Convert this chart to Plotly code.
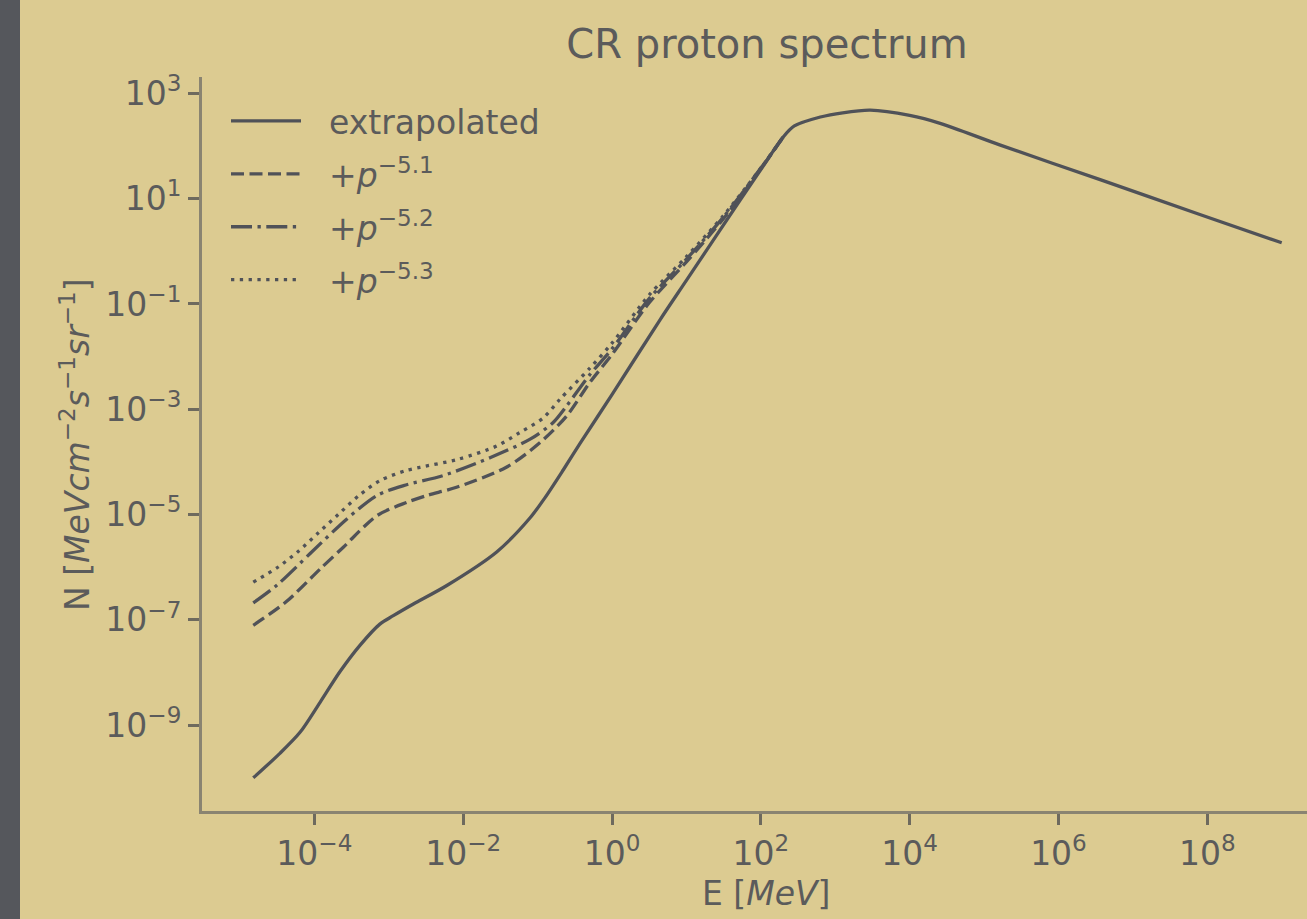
import plotly.graph_objects as go

# ---------------- data ----------------
E_solid = [1.51e-5, 3.47e-5, 6.46e-5, 1.2e-4, 2.19e-4, 4.07e-4, 7.59e-4, 1.15e-3, 2.14e-3, 6.03e-3,
           2.82e-2, 7.94e-2, 0.126, 0.222, 0.372, 1.0, 4.42, 10.0, 52.5, 100.0, 200.0, 282.0,
           631.0, 1260.0, 2950.0, 1.0e4, 2.57e4, 1.62e5, 3.63e6, 7.94e7, 1.0e9]
N_solid = [1.0e-10, 2.95e-10, 7.4e-10, 2.75e-9, 1.02e-8, 3.24e-8, 8.3e-8, 1.2e-7, 2.0e-7, 4.5e-7,
           1.95e-6, 8.7e-6, 2.1e-5, 7.1e-5, 2.24e-4, 1.9e-3, 5.0e-2, 0.28, 9.3, 35.5, 148.0, 240.0,
           355.0, 427.0, 479.0, 380.0, 269.0, 105.0, 22.9, 5.0, 1.45]

E_p51 = [1.51e-5, 4.17e-5, 1.2e-4, 2.45e-4, 6.92e-4, 1.74e-3, 3.24e-3, 8.13e-3, 3.8e-2, 0.107,
         0.245, 0.501, 1.0, 3.16, 10.0, 31.6, 100.0, 200.0]
N_p51 = [7.9e-8, 2.2e-7, 9.3e-7, 2.4e-6, 9.5e-6, 1.7e-5, 2.3e-5, 3.3e-5, 7.9e-5, 2.3e-4,
         7.4e-4, 3.2e-3, 1.1e-2, 0.105, 0.63, 4.2, 37.0, 148.0]

E_p52 = [1.51e-5, 3.16e-5, 8.71e-5, 2.69e-4, 6.92e-4, 1.58e-3, 5.37e-3, 2.29e-2, 7.94e-2, 0.162,
         0.245, 0.501, 1.0, 3.16, 10.0, 31.6, 100.0, 200.0]
N_p52 = [2.1e-7, 4.6e-7, 1.8e-6, 8.1e-6, 2.3e-5, 3.55e-5, 5.5e-5, 1.2e-4, 2.7e-4, 5.6e-4,
         1.15e-3, 4.5e-3, 1.4e-2, 0.126, 0.71, 4.5, 38.0, 148.0]

E_p53 = [1.51e-5, 3.31e-5, 6.17e-5, 1.15e-4, 2.09e-4, 3.98e-4, 7.59e-4, 1.66e-3, 2.63e-3, 8.51e-3,
         2.82e-2, 5.75e-2, 0.12, 0.2, 0.501, 1.0, 3.16, 10.0, 31.6, 100.0, 200.0]
N_p53 = [5.2e-7, 1.02e-6, 2.04e-6, 4.6e-6, 1.0e-5, 2.3e-5, 4.4e-5, 6.8e-5, 7.9e-5, 1.12e-4,
         2.0e-4, 3.6e-4, 6.9e-4, 1.55e-3, 6.0e-3, 1.8e-2, 0.148, 0.79, 4.8, 38.0, 148.0]

series_names = ["extrapolated", "+<i>p</i><sup>−5.1</sup>", "+<i>p</i><sup>−5.2</sup>", "+<i>p</i><sup>−5.3</sup>"]

x_tickvals = [1e-4, 1e-2, 1e0, 1e2, 1e4, 1e6, 1e8]
x_ticktext = ["10<sup>−4</sup>", "10<sup>−2</sup>", "10<sup>0</sup>", "10<sup>2</sup>",
              "10<sup>4</sup>", "10<sup>6</sup>", "10<sup>8</sup>"]
y_tickvals = [1e-9, 1e-7, 1e-5, 1e-3, 1e-1, 1e1, 1e3]
y_ticktext = ["10<sup>−9</sup>", "10<sup>−7</sup>", "10<sup>−5</sup>", "10<sup>−3</sup>",
              "10<sup>−1</sup>", "10<sup>1</sup>", "10<sup>3</sup>"]

# ---------------- styling ----------------
BG = "#dccb91"
LINE = "#505258"
TEXT = "#5b5b5b"
SPINE = "#8a8471"
FONT = "DejaVu Sans"
LW = 3.3

W, H = 1307, 919
ML, MR, MT, MB = 202, 0, 77, 108
PW, PH = W - ML - MR, H - MT - MB

fig = go.Figure()
styles = [None, "13px,5.5px", "21px,5.5px,3.3px,5.5px", "3.3px,5.5px"]
datasets = [(E_solid, N_solid), (E_p51, N_p51), (E_p52, N_p52), (E_p53, N_p53)]
PAD = "\u2002\u2009"  # gap between legend handle and label
for i, ((ex, ny), nm, ds) in enumerate(zip(datasets, series_names, styles)):
    line = dict(color=LINE, width=LW, shape="spline", smoothing=0.8)
    if ds:
        line["dash"] = ds
    fig.add_trace(go.Scatter(x=ex, y=ny, mode="lines", name=PAD + nm, line=line,
                             legendgroup=f"g{i}"))

fig.update_layout(
    width=W, height=H,
    paper_bgcolor=BG, plot_bgcolor=BG,
    margin=dict(l=ML, r=MR, t=MT, b=MB, pad=0),
    font=dict(family=FONT, size=33, color=TEXT),
    title=dict(text="CR proton spectrum", font=dict(size=40, color=TEXT),
               xref="paper", x=(767 - ML) / PW, xanchor="center",
               yref="container", y=1 - 44 / H, yanchor="middle"),
    showlegend=True,
    legend=dict(x=(226 - ML) / PW, y=(H - MB - 93) / PH, xanchor="left", yanchor="top",
                bgcolor="rgba(0,0,0,0)", font=dict(size=33, color=TEXT),
                itemwidth=70, tracegroupgap=7),
)
fig.update_xaxes(type="log", range=[-5.51, 9.34], tickvals=x_tickvals, ticktext=x_ticktext,
                 showgrid=False, zeroline=False, showline=True, linecolor=SPINE, linewidth=3,
                 ticks="outside", ticklen=11, tickwidth=2.5, tickcolor="#6e6a5e",
                 tickfont=dict(size=33, color=TEXT))
fig.update_yaxes(type="log", range=[-10.63, 3.31], tickvals=y_tickvals, ticktext=y_ticktext,
                 showgrid=False, zeroline=False, showline=True, linecolor=SPINE, linewidth=3,
                 ticks="outside", ticklen=11, tickwidth=2.5, tickcolor="#6e6a5e",
                 tickfont=dict(size=33, color=TEXT))

# axis titles as annotations (centered like the reference)
fig.add_annotation(text="E [<i>MeV</i>]", xref="paper", yref="paper",
                   x=(766 - ML) / PW, y=-(893 - (H - MB)) / PH, xanchor="center", yanchor="middle",
                   showarrow=False, font=dict(size=33, color=TEXT))
fig.add_annotation(text="N [<i>MeVcm</i><sup>−2</sup><i>s</i><sup>−1</sup><i>sr</i><sup>−1</sup>]",
                   xref="paper", yref="paper", textangle=-90,
                   x=-(ML - 75) / PW, y=(H - MB - 445) / PH, xanchor="center", yanchor="middle",
                   showarrow=False, font=dict(size=33, color=TEXT))

# dark strip at the left edge of the picture
fig.add_shape(type="rect", xref="paper", yref="paper",
              x0=-ML / PW, x1=-(ML - 20) / PW, y0=-MB / PH, y1=(PH + MT) / PH,
              fillcolor="#55575c", line=dict(width=0), layer="below")

fig.write_html("out.html")
